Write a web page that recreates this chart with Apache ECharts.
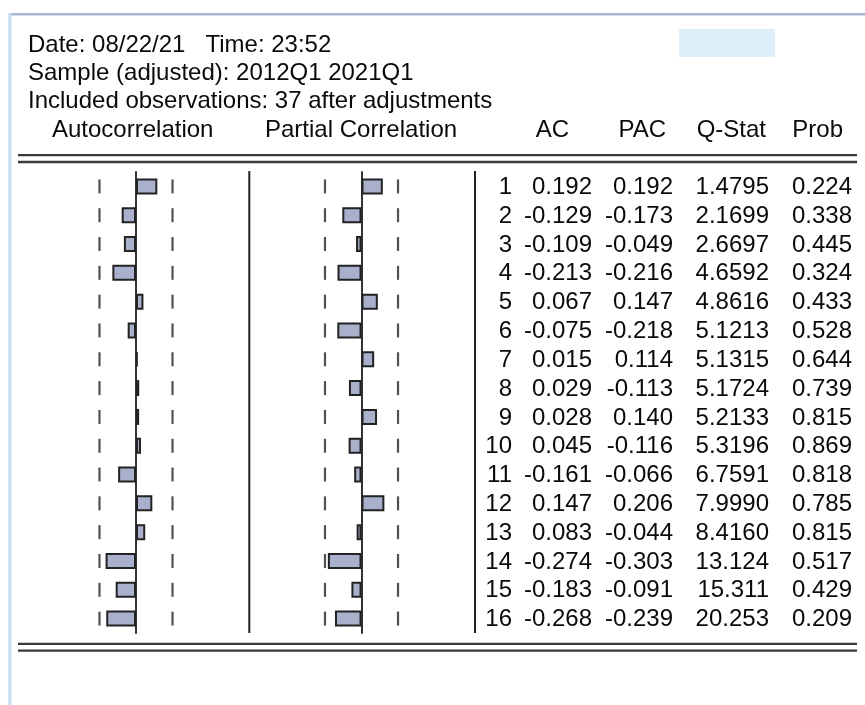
<!DOCTYPE html>
<html>
<head>
<meta charset="utf-8">
<script src="https://cdn.jsdelivr.net/npm/echarts@6/dist/echarts.min.js"></script>
<style>
html,body{margin:0;padding:0;background:#fff;}
#chart{width:865px;height:705px;}
</style>
</head>
<body>
<div id="chart"></div>
<script>
// ---- data ----
const lags = ['1','2','3','4','5','6','7','8','9','10','11','12','13','14','15','16'];
const acValues  = [0.192,-0.129,-0.109,-0.213,0.067,-0.075,0.015,0.029,0.028,0.045,-0.161,0.147,0.083,-0.274,-0.183,-0.268];
const pacValues = [0.192,-0.173,-0.049,-0.216,0.147,-0.218,0.114,-0.113,0.140,-0.116,-0.066,0.206,-0.044,-0.303,-0.091,-0.239];
const qStat     = [1.4795,2.1699,2.6697,4.6592,4.8616,5.1213,5.1315,5.1724,5.2133,5.3196,6.7591,7.9990,8.4160,13.124,15.311,20.253];
const probValues= [0.224,0.338,0.445,0.324,0.433,0.528,0.644,0.739,0.815,0.869,0.818,0.785,0.815,0.517,0.429,0.209];
const bandLimit = 0.329; // approx. 2 standard-error bound (37 observations)
const headerLines = ['Date: 08/22/21   Time: 23:52','Sample (adjusted): 2012Q1 2021Q1','Included observations: 37 after adjustments'];
const columnTitles = ['Autocorrelation','Partial Correlation','AC','PAC','Q-Stat','Prob'];

// ---- layout / style ----
const FONT = '24px "Liberation Sans", Arial, sans-serif';
const TXT = '#0a0a0a';
const BAR_FILL = '#a8b0cc';
const BAR_EDGE = '#222222';
const LINE = '#3a3a3a';
const GRID_TOP = 172, GRID_BOTTOM = 72;
const colRight = [512, 592, 673, 769, 852];

const chart = echarts.init(document.getElementById('chart'), null, {renderer: 'canvas'});

function txt(text, x, y, align) {
  return {type: 'text', silent: true, style: {text: text, x: x, y: y, font: FONT, fill: TXT,
    align: align || 'left', verticalAlign: 'middle', textAlign: align || 'left', textVerticalAlign: 'middle'}};
}
function hline(x1, x2, y, w, c) {
  return {type: 'line', silent: true, shape: {x1: x1, y1: y, x2: x2, y2: y}, style: {stroke: c, lineWidth: w}};
}
function vline(x, y1, y2, w, c) {
  return {type: 'line', silent: true, shape: {x1: x, y1: y1, x2: x, y2: y2}, style: {stroke: c, lineWidth: w}};
}

const dashData = lags.flatMap((l, i) => [[-bandLimit, i], [bandLimit, i]]);

const graphics = [
  {type: 'rect', silent: true, shape: {x: 9, y: 13, width: 856, height: 2.6}, style: {fill: '#a3b9cb'}},
  {type: 'rect', silent: true, shape: {x: 8.3, y: 13, width: 3.2, height: 692}, style: {fill: '#c8dcf2'}},
  {type: 'rect', silent: true, shape: {x: 679, y: 29, width: 96, height: 28}, style: {fill: '#ddeff9'}},
  txt(headerLines[0], 28, 45),
  txt(headerLines[1], 28, 73.4),
  txt(headerLines[2], 28, 101.7),
  txt(columnTitles[0], 52, 130),
  txt(columnTitles[1], 265, 130),
  txt(columnTitles[2], 569, 130, 'right'),
  txt(columnTitles[3], 666, 130, 'right'),
  txt(columnTitles[4], 766, 130, 'right'),
  txt(columnTitles[5], 843, 130, 'right'),
  hline(18, 857, 155.2, 2.3, LINE),
  hline(18, 857, 162, 2.3, LINE),
  hline(18, 857, 643.8, 2.3, LINE),
  hline(18, 857, 650.7, 2.3, LINE),
  vline(249.3, 171, 633, 2, '#222'),
  vline(475, 171, 633, 2, '#222')
];

const tableRows = lags.map((l, i) => [i, l, acValues[i], pacValues[i], qStat[i], probValues[i]]);

const option = {
  animation: false,
  backgroundColor: '#ffffff',
  grid: [
    {left: 25, width: 222, top: GRID_TOP, bottom: GRID_BOTTOM},
    {left: 250.5, width: 222, top: GRID_TOP, bottom: GRID_BOTTOM},
    {left: 0, width: 865, top: GRID_TOP, bottom: GRID_BOTTOM}
  ],
  xAxis: [
    {type: 'value', gridIndex: 0, min: -1, max: 1, show: true, axisLine: {show: false}, axisTick: {show: false}, axisLabel: {show: false}, splitLine: {show: false}},
    {type: 'value', gridIndex: 1, min: -1, max: 1, show: true, axisLine: {show: false}, axisTick: {show: false}, axisLabel: {show: false}, splitLine: {show: false}},
    {type: 'value', gridIndex: 2, min: 0, max: 865, show: false}
  ],
  yAxis: [0, 1].map(g => ({
    type: 'category', gridIndex: g, data: lags, inverse: true,
    axisLine: {show: true, onZero: true, lineStyle: {color: '#333', width: 2}},
    axisTick: {show: false}, axisLabel: {show: false}, splitLine: {show: false}
  })).concat([{type: 'category', gridIndex: 2, data: lags, inverse: true, show: false}]),
  graphic: graphics,
  series: [
    {type: 'bar', xAxisIndex: 0, yAxisIndex: 0, data: acValues, barWidth: 16,
      itemStyle: {color: BAR_FILL, borderColor: BAR_EDGE, borderWidth: 2}},
    {type: 'bar', xAxisIndex: 1, yAxisIndex: 1, data: pacValues, barWidth: 16,
      itemStyle: {color: BAR_FILL, borderColor: BAR_EDGE, borderWidth: 2}},
    {type: 'scatter', xAxisIndex: 0, yAxisIndex: 0, data: dashData, symbol: 'rect', symbolSize: [2.2, 14],
      itemStyle: {color: '#262626'}, silent: true},
    {type: 'scatter', xAxisIndex: 1, yAxisIndex: 1, data: dashData, symbol: 'rect', symbolSize: [2.2, 14],
      itemStyle: {color: '#262626'}, silent: true},
    {type: 'custom', xAxisIndex: 2, yAxisIndex: 2, data: tableRows, silent: true,
      renderItem: function (params, api) {
        const row = tableRows[params.dataIndex];
        const y = api.coord([0, row[0]])[1] + 1;
        const vals = [row[1], row[2].toFixed(3), row[3].toFixed(3), row[4].toPrecision(5), row[5].toFixed(3)];
        return {type: 'group', children: vals.map((v, k) => ({
          type: 'text',
          style: {text: v, x: api.coord([colRight[k], 0])[0], y: y, font: FONT, fill: TXT,
            align: 'right', verticalAlign: 'middle', textAlign: 'right', textVerticalAlign: 'middle'}
        }))};
      }}
  ]
};
chart.setOption(option);
</script>
</body>
</html>
